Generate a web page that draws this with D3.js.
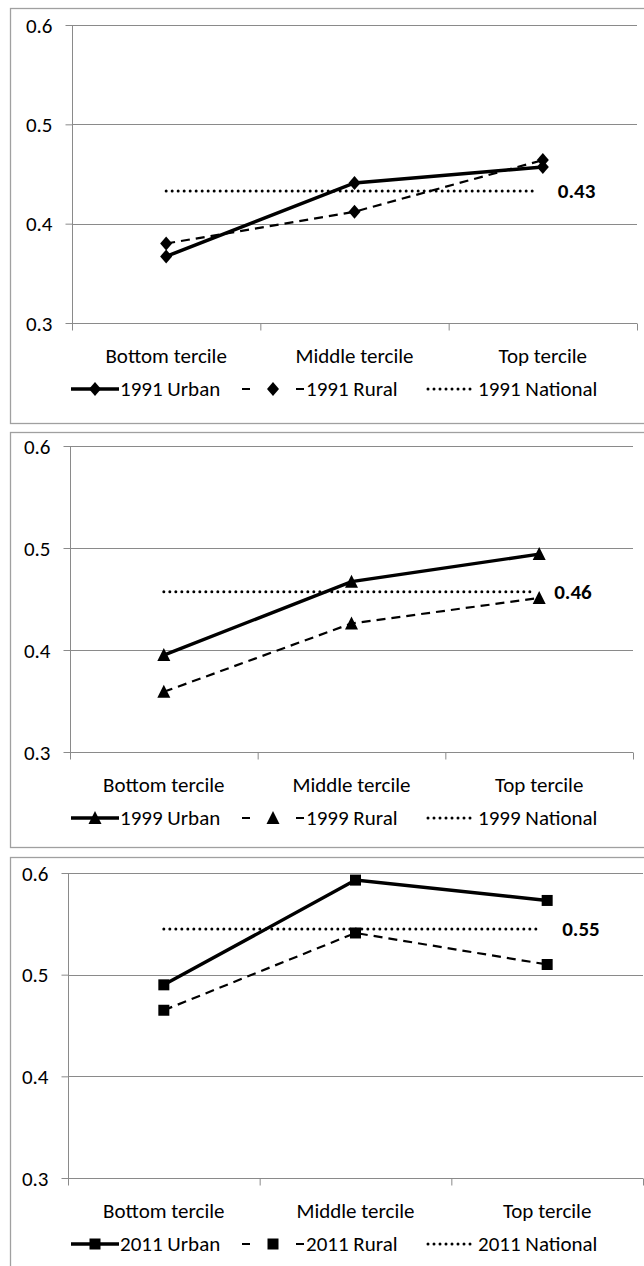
<!DOCTYPE html>
<html>
<head>
<meta charset="utf-8">
<script src="https://cdnjs.cloudflare.com/ajax/libs/d3/7.8.5/d3.min.js"></script>
<style>
  body { margin: 0; background: #fff; }
  svg text { font-family: Carlito, Calibri, "Liberation Sans Narrow", "Open Sans", sans-serif; fill: #000; }
</style>
</head>
<body>
<script>
// categories and tick labels
var categories = ["Bottom tercile", "Middle tercile", "Top tercile"];
var years = ["1991", "1999", "2011"];
var yTicks = [0.3, 0.4, 0.5, 0.6];

// series values
var urban1991 = [0.367, 0.441, 0.457];
var rural1991 = [0.380, 0.412, 0.464];
var urban1999 = [0.395, 0.467, 0.494];
var rural1999 = [0.359, 0.426, 0.451];
var urban2011 = [0.490, 0.593, 0.573];
var rural2011 = [0.465, 0.541, 0.510];
var nationalValues = [0.433, 0.457, 0.545];
var nationalLabels = ["0.43", "0.46", "0.55"];

var urbanSeries = [urban1991, urban1999, urban2011];
var ruralSeries = [rural1991, rural1999, rural2011];

// marker shapes, centred on 0,0
var diamond = "M0,-7L6,0L0,7L-6,0Z";
var triangle = "M0,-7L6.5,6L-6.5,6Z";
var square = "M-5.5,-5.5H5.5V5.5H-5.5Z";

// panel frames (pixel layout)
var panels = [
  { top: 8, bottom: 423, yTop: 25, yBottom: 323, left: 72, right: 637, marker: diamond },
  { top: 432, bottom: 847, yTop: 446, yBottom: 752, left: 70, right: 633, marker: triangle },
  { top: 857, bottom: 1290, yTop: 873, yBottom: 1178, left: 68, right: 643, marker: square },
];

var fontSize = 21;
var grey = "#8a8a8a";

var svg = d3.select("body").append("svg").attr("width", 644).attr("height", 1266);

function drawPanel(p, i) {
  var g = svg.append("g");

  // outer frame
  g.append("rect")
    .attr("x", 10.5).attr("y", p.top + 0.5)
    .attr("width", 660).attr("height", p.bottom - p.top)
    .attr("fill", "none").attr("stroke", "#a0a0a0").attr("stroke-width", 1.3);

  var x = d3.scaleBand().domain(categories).range([p.left, p.right]);
  var y = d3.scaleLinear().domain([0.3, 0.6]).range([p.yBottom, p.yTop]);
  var cx = (c) => x(c) + x.bandwidth() / 2;

  // gridlines
  g.selectAll(".grid")
    .data(yTicks.filter((t) => t > 0.3))
    .enter()
    .append("line")
    .attr("x1", p.left).attr("x2", p.right)
    .attr("y1", (d) => Math.round(y(d)) + 0.5).attr("y2", (d) => Math.round(y(d)) + 0.5)
    .attr("stroke", grey).attr("stroke-width", 1);

  // y axis
  var leftAxis = d3.axisLeft(y).tickValues(yTicks).tickSize(7).tickPadding(13).tickFormat(d3.format(".1f"));
  var yAxis = g.append("g").attr("transform", `translate(${p.left + 0.5},0)`).call(leftAxis);
  yAxis.selectAll("line, path").attr("stroke", grey);
  yAxis.select(".domain").attr("d", `M0,${p.yTop}V${p.yBottom}`);
  yAxis.selectAll("text").attr("font-size", fontSize).attr("dy", "0.34em").style("font-family", null);

  // x axis: ticks at category boundaries
  var bounds = d3.scaleLinear().domain([0, 3]).range([p.left, p.right]);
  var bottomAxis = d3.axisBottom(bounds).tickValues([0, 1, 2, 3]).tickSize(7).tickFormat("");
  var xAxis = g.append("g").attr("transform", `translate(0,${Math.round(p.yBottom) + 0.5})`).call(bottomAxis);
  xAxis.selectAll("line, path").attr("stroke", grey);
  xAxis.select(".domain").attr("d", `M${p.left},0H${p.right}`);

  g.selectAll(".cat")
    .data(categories)
    .enter()
    .append("text")
    .attr("x", cx).attr("y", p.yBottom + 40)
    .attr("text-anchor", "middle").attr("font-size", fontSize)
    .text((d) => d);

  // national dotted line
  var natY = y(nationalValues[i]);
  g.append("line")
    .attr("x1", cx(categories[0])).attr("x2", cx(categories[2]) - 8)
    .attr("y1", natY).attr("y2", natY)
    .attr("stroke", "#000").attr("stroke-width", 3)
    .attr("stroke-linecap", "round").attr("stroke-dasharray", "0,6");
  g.append("text")
    .attr("x", cx(categories[2]) + 15).attr("y", natY + 7)
    .attr("font-size", fontSize).attr("font-weight", "bold")
    .text(nationalLabels[i]);

  var line = d3.line().x((d, j) => cx(categories[j])).y((d) => y(d));

  // rural dashed
  g.append("path").datum(ruralSeries[i])
    .attr("d", line).attr("fill", "none").attr("stroke", "#000")
    .attr("stroke-width", 2.2).attr("stroke-dasharray", "9,6");
  // urban solid
  g.append("path").datum(urbanSeries[i])
    .attr("d", line).attr("fill", "none").attr("stroke", "#000")
    .attr("stroke-width", 3.4);

  [ruralSeries[i], urbanSeries[i]].forEach((s) => {
    g.selectAll(null)
      .data(s)
      .enter()
      .append("path")
      .attr("d", p.marker)
      .attr("transform", (d, j) => `translate(${cx(categories[j])},${y(d)})`)
      .attr("fill", "#000");
  });

  // legend
  var ly = p.yBottom + 66;
  var lg = g.append("g");
  lg.append("line").attr("x1", 71).attr("x2", 119).attr("y1", ly).attr("y2", ly)
    .attr("stroke", "#000").attr("stroke-width", 3.4);
  lg.append("path").attr("d", p.marker).attr("transform", `translate(95,${ly})`);
  lg.append("text").attr("x", 120).attr("y", ly + 7).attr("font-size", fontSize).text(years[i] + " Urban");

  lg.append("line").attr("x1", 242).attr("x2", 304).attr("y1", ly).attr("y2", ly)
    .attr("stroke", "#000").attr("stroke-width", 2.2).attr("stroke-dasharray", "8,46");
  lg.append("path").attr("d", p.marker).attr("transform", `translate(273,${ly})`);
  lg.append("text").attr("x", 306).attr("y", ly + 7).attr("font-size", fontSize).text(years[i] + " Rural");

  lg.append("line").attr("x1", 428).attr("x2", 472).attr("y1", ly).attr("y2", ly)
    .attr("stroke", "#000").attr("stroke-width", 3)
    .attr("stroke-linecap", "round").attr("stroke-dasharray", "0,6");
  lg.append("text").attr("x", 478).attr("y", ly + 7).attr("font-size", fontSize).text(years[i] + " National");
}

panels.forEach(drawPanel);
</script>
</body>
</html>
